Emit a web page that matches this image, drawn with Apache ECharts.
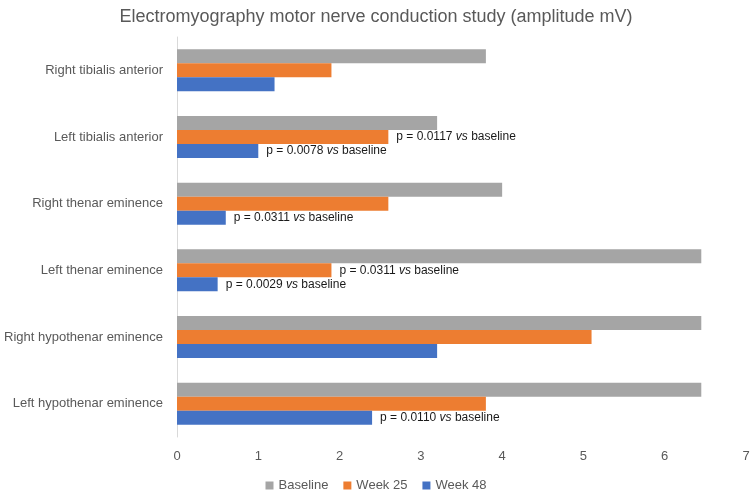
<!DOCTYPE html>
<html>
<head>
<meta charset="utf-8">
<script src="https://cdn.jsdelivr.net/npm/echarts@6/dist/echarts.min.js"></script>
<style>html,body{margin:0;padding:0;background:#fff}#c{width:752px;height:493px}</style>
</head>
<body>
<div id="c"></div>
<script>
const categories = ["Right tibialis anterior","Left tibialis anterior","Right thenar eminence","Left thenar eminence","Right hypothenar eminence","Left hypothenar eminence"];
const baseline = [3.8, 3.2, 4.0, 6.45, 6.45, 6.45];
const week25 = [1.9, 2.6, 2.6, 1.9, 5.1, 3.8];
const week48 = [1.2, 1.0, 0.6, 0.5, 3.2, 2.4];
const week25P = [null, "0.0117", null, "0.0311", null, null];
const week48P = [null, "0.0078", "0.0311", "0.0029", null, "0.0110"];
const xTicks = [0, 1, 2, 3, 4, 5, 6, 7];

const chart = echarts.init(document.getElementById('c'), null, {renderer: 'canvas'});
const font = "'Liberation Sans', Arial, sans-serif";

function withP(values, pvals) {
  return values.map((v, i) => {
    if (pvals[i] === null) return v;
    return {
      value: v,
      label: {
        show: true,
        position: 'right',
        distance: 8,
        formatter: 'p = ' + pvals[i] + ' {i|vs} baseline',
        color: '#1a1a1a',
        fontSize: 12,
        fontFamily: font,
        rich: { i: { fontStyle: 'italic', fontSize: 12, fontFamily: font, color: '#1a1a1a' } }
      }
    };
  });
}

chart.setOption({
  animation: false,
  title: {
    text: 'Electromyography motor nerve conduction study (amplitude mV)',
    left: 'center',
    top: 3,
    textStyle: { color: '#595959', fontSize: 18, fontWeight: 'normal', fontFamily: font }
  },
  legend: {
    top: 474,
    left: 'center',
    itemWidth: 8,
    itemHeight: 8,
    itemGap: 15,
    icon: 'rect',
    textStyle: { color: '#595959', fontSize: 13, fontFamily: font },
    data: ['Baseline', 'Week 25', 'Week 48']
  },
  grid: { left: 177, right: 6, top: 37, bottom: 56, containLabel: false, outerBoundsMode: 'none' },
  xAxis: {
    type: 'value',
    min: 0, max: 7, interval: 1,
    axisLine: { show: false },
    axisTick: { show: false },
    splitLine: { show: false },
    axisLabel: { color: '#595959', fontSize: 13, fontFamily: font, margin: 13,
      formatter: v => xTicks.includes(v) ? String(v) : '' }
  },
  yAxis: {
    type: 'category',
    inverse: true,
    data: categories,
    axisLine: { show: true, lineStyle: { color: '#d9d9d9', width: 1 } },
    axisTick: { show: false },
    axisLabel: { color: '#595959', fontSize: 13, fontFamily: font, margin: 14 }
  },
  series: [
    { name: 'Baseline', type: 'bar', data: baseline, itemStyle: { color: '#a5a5a5' }, barGap: '0%', barCategoryGap: '37%' },
    { name: 'Week 25', type: 'bar', data: withP(week25, week25P), itemStyle: { color: '#ed7d31' }, barGap: '0%', barCategoryGap: '37%' },
    { name: 'Week 48', type: 'bar', data: withP(week48, week48P), itemStyle: { color: '#4472c4' }, barGap: '0%', barCategoryGap: '37%' }
  ]
});
</script>
</body>
</html>
